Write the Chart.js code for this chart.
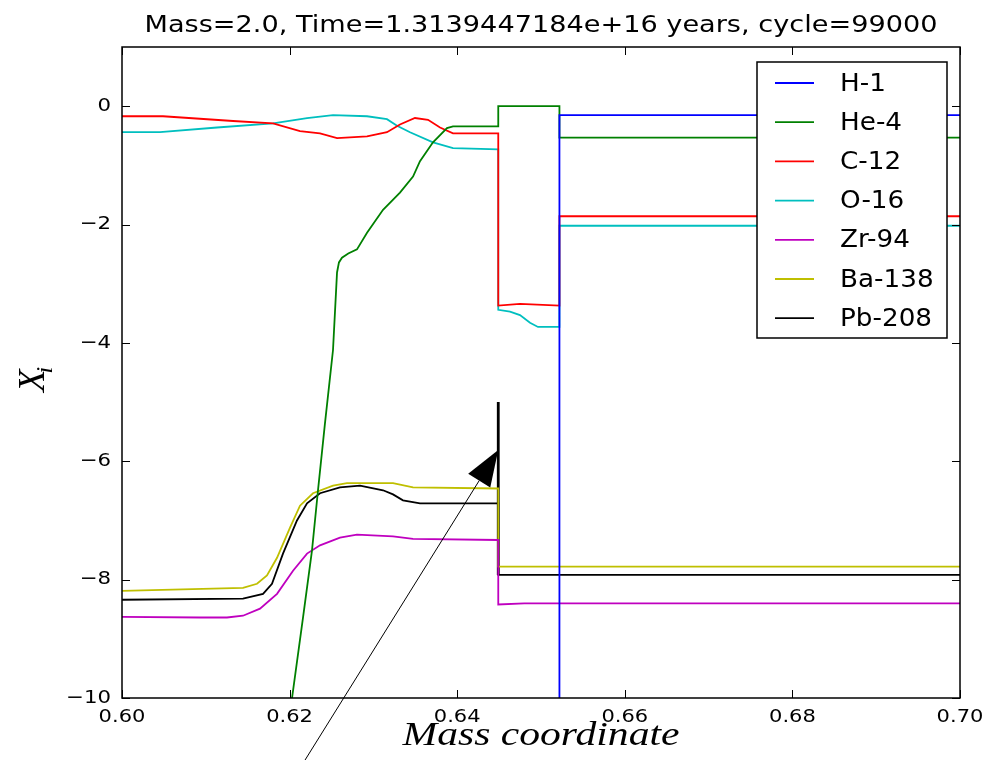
<!DOCTYPE html>
<html>
<head>
<meta charset="utf-8">
<script src="https://cdn.jsdelivr.net/npm/chart.js@4/dist/chart.umd.min.js"></script>
<style>
  body { margin: 0; background: #fff; }
  canvas { display: block; }
</style>
</head>
<body>
<canvas id="c" width="983" height="760"></canvas>
<script>
// abundance profiles, log10 of mass fraction against mass coordinate
const speciesNames = ['H-1', 'He-4', 'C-12', 'O-16', 'Zr-94', 'Ba-138', 'Pb-208']
const speciesColors = ['#0000ff', '#008000', '#ff0000', '#00bfbf', '#bf00bf', '#bfbf00', '#000000']

const massH1 = [0.6522, 0.6522, 0.70]
const logH1  = [-10.6, -0.15, -0.15]

const massHe4 = [0.6197, 0.62029, 0.6216, 0.62267, 0.62339, 0.62422, 0.62518, 0.62566, 0.62589, 0.62625, 0.627, 0.62804, 0.62924, 0.63115, 0.63317, 0.63473, 0.63556, 0.63711, 0.63878, 0.6395, 0.6449, 0.6449, 0.6522, 0.6522, 0.70]
const logHe4  = [-10.6, -10.0, -8.64, -7.51, -6.49, -5.36, -4.12, -2.81, -2.64, -2.56, -2.49, -2.42, -2.14, -1.75, -1.46, -1.19, -0.93, -0.61, -0.37, -0.34, -0.34, 0.0, 0.0, -0.53, -0.53]

const massC12 = [0.60, 0.60489, 0.61325, 0.61802, 0.62124, 0.62363, 0.62566, 0.62924, 0.63162, 0.63317, 0.63496, 0.63652, 0.63795, 0.6395, 0.6449, 0.6449, 0.6475, 0.6522, 0.6522, 0.70]
const logC12  = [-0.17, -0.17, -0.25, -0.29, -0.42, -0.46, -0.54, -0.51, -0.44, -0.31, -0.20, -0.23, -0.36, -0.46, -0.46, -3.37, -3.34, -3.37, -1.86, -1.86]

const massO16 = [0.60, 0.60453, 0.61134, 0.61802, 0.62208, 0.62518, 0.62924, 0.63162, 0.63282, 0.63437, 0.63711, 0.6395, 0.6449, 0.6449, 0.6463, 0.64749, 0.64869, 0.64964, 0.6522, 0.6522, 0.70]
const logO16  = [-0.44, -0.44, -0.36, -0.29, -0.20, -0.15, -0.17, -0.22, -0.33, -0.44, -0.61, -0.71, -0.73, -3.44, -3.47, -3.53, -3.66, -3.73, -3.73, -2.02, -2.02]

const massZr94 = [0.60, 0.60931, 0.61253, 0.61444, 0.61647, 0.6185, 0.62041, 0.62208, 0.62363, 0.62601, 0.62804, 0.63234, 0.63473, 0.6449, 0.6449, 0.648, 0.70]
const logZr94  = [-8.63, -8.64, -8.64, -8.61, -8.49, -8.24, -7.85, -7.56, -7.42, -7.29, -7.24, -7.27, -7.31, -7.33, -8.42, -8.40, -8.40]

const massBa138 = [0.60, 0.61444, 0.61611, 0.6173, 0.6185, 0.62005, 0.62124, 0.62279, 0.62518, 0.62685, 0.63234, 0.63473, 0.6449, 0.6449, 0.70]
const logBa138  = [-8.19, -8.14, -8.07, -7.93, -7.63, -7.12, -6.75, -6.54, -6.41, -6.37, -6.37, -6.44, -6.46, -7.78, -7.78]

const massPb208 = [0.60, 0.61444, 0.61683, 0.6179, 0.61921, 0.62088, 0.62208, 0.62363, 0.62601, 0.6284, 0.63115, 0.63234, 0.63353, 0.63556, 0.6449, 0.6449, 0.70]
const logPb208  = [-8.34, -8.32, -8.24, -8.07, -7.56, -7.0, -6.71, -6.54, -6.44, -6.41, -6.49, -6.56, -6.66, -6.71, -6.71, -7.92, -7.92]

// marker at the boundary and the arrow pointing at it
const markMass = [0.6449, 0.6449]
const markLog  = [-5.0, -7.92]
const arrowMass = [0.6210, 0.6449]
const arrowLog  = [-11.24, -5.81]

const xTicks = [0.60, 0.62, 0.64, 0.66, 0.68, 0.70]
const yTicks = [-10, -8, -6, -4, -2, 0]

const titleText = 'Mass=2.0, Time=1.3139447184e+16 years, cycle=99000'

const massSets = [massH1, massHe4, massC12, massO16, massZr94, massBa138, massPb208]
const logSets  = [logH1, logHe4, logC12, logO16, logZr94, logBa138, logPb208]

function toPoints(xs, ys){
    return xs.map((v, i) => ({x: v, y: ys[i]}))
}

const datasets = speciesNames.map((name, i) => ({
    label: name,
    data: toPoints(massSets[i], logSets[i]),
    borderColor: speciesColors[i],
    borderWidth: 1.8,
    showLine: true,
    pointRadius: 0,
    tension: 0
}))
datasets.push({
    label: '',
    data: toPoints(markMass, markLog),
    borderColor: '#000',
    borderWidth: 2.8,
    showLine: true,
    pointRadius: 0
})

// stretched text helper
function text(ctx, str, x, y, font, align, sx){
    ctx.save()
    ctx.font = font
    const w = ctx.measureText(str).width * sx
    let x0 = x
    if (align === 'center') x0 = x - w / 2
    else if (align === 'right') x0 = x - w
    ctx.translate(x0, y)
    ctx.scale(sx, 1)
    ctx.textAlign = 'left'
    ctx.fillText(str, 0, 0)
    ctx.restore()
}

const decor = {
    id: 'decor',
    afterDraw(chart){
        const ctx = chart.ctx
        const {left, top, right, bottom} = chart.chartArea
        const xs = chart.scales.x, ys = chart.scales.y
        ctx.save()
        ctx.fillStyle = '#000'
        ctx.strokeStyle = '#000'
        ctx.textBaseline = 'alphabetic'

        // frame
        ctx.lineWidth = 1.5
        ctx.strokeRect(left, top, right - left, bottom - top)

        // inward ticks on all sides
        ctx.lineWidth = 1
        ctx.beginPath()
        xTicks.forEach(v => {
            const px = Math.round(xs.getPixelForValue(v)) + 0.5
            ctx.moveTo(px, bottom); ctx.lineTo(px, bottom - 8)
            ctx.moveTo(px, top); ctx.lineTo(px, top + 8)
        })
        yTicks.forEach(v => {
            const py = Math.round(ys.getPixelForValue(v)) + 0.5
            ctx.moveTo(left, py); ctx.lineTo(left + 8, py)
            ctx.moveTo(right, py); ctx.lineTo(right - 8, py)
        })
        ctx.stroke()

        // tick labels
        xTicks.forEach(v => {
            text(ctx, v.toFixed(2), xs.getPixelForValue(v), 722, '17.5px "DejaVu Sans"', 'center', 1.2)
        })
        ctx.textBaseline = 'middle'
        yTicks.forEach(v => {
            const s = v < 0 ? '\u2212' + Math.abs(v) : String(v)
            text(ctx, s, left - 11, ys.getPixelForValue(v), '18.5px "DejaVu Sans"', 'right', 1.15)
        })
        ctx.textBaseline = 'alphabetic'

        // title
        text(ctx, titleText, (left + right) / 2, 32, '23px "DejaVu Sans"', 'center', 1.18)

        // x axis label
        ctx.save()
        ctx.font = 'italic 33px "Liberation Serif"'
        const lw = ctx.measureText('Mass coordinate').width
        ctx.restore()
        text(ctx, 'Mass coordinate', (left + right) / 2, 745, 'italic 33px "Liberation Serif"', 'center', 277 / lw)

        // y axis label, X with subscript i
        ctx.save()
        ctx.translate(44, 392)
        ctx.rotate(-Math.PI / 2)
        ctx.font = 'italic 37px "Liberation Serif"'
        ctx.fillText('X', 0, 0)
        const xw = ctx.measureText('X').width
        ctx.font = 'italic 24px "Liberation Serif"'
        ctx.fillText('i', xw - 4, 8)
        ctx.restore()

        // legend
        const lx = 757, ly = 62, lwid = 190, lh = 276
        ctx.fillStyle = '#fff'
        ctx.fillRect(lx, ly, lwid, lh)
        ctx.lineWidth = 1.5
        ctx.strokeStyle = '#000'
        ctx.strokeRect(lx, ly, lwid, lh)
        ctx.textBaseline = 'middle'
        speciesNames.forEach((name, i) => {
            const cy = 83 + i * 39.2
            ctx.strokeStyle = speciesColors[i]
            ctx.lineWidth = 1.8
            ctx.beginPath()
            ctx.moveTo(775, cy); ctx.lineTo(814, cy)
            ctx.stroke()
            ctx.fillStyle = '#000'
            text(ctx, name, 840, cy + 1, '25px "DejaVu Sans"', 'left', 1.05)
        })

        // arrow
        const tx = xs.getPixelForValue(arrowMass[1]), ty = ys.getPixelForValue(arrowLog[1])
        const sx = xs.getPixelForValue(arrowMass[0]), sy = ys.getPixelForValue(arrowLog[0])
        const len = Math.hypot(sx - tx, sy - ty)
        const ux = (sx - tx) / len, uy = (sy - ty) / len
        const head = 36, half = 13
        const bx = tx + ux * head, by = ty + uy * head
        ctx.strokeStyle = '#000'
        ctx.lineWidth = 1
        ctx.beginPath()
        ctx.moveTo(sx, sy); ctx.lineTo(bx, by)
        ctx.stroke()
        ctx.fillStyle = '#000'
        ctx.beginPath()
        ctx.moveTo(tx, ty)
        ctx.lineTo(bx - uy * half, by + ux * half)
        ctx.lineTo(bx + uy * half, by - ux * half)
        ctx.closePath()
        ctx.fill()

        ctx.restore()
    }
}

new Chart(document.getElementById('c'), {
    type: 'scatter',
    data: {datasets: datasets},
    options: {
        responsive: false,
        devicePixelRatio: 1,
        animation: false,
        layout: {padding: {left: 122, right: 23, top: 47, bottom: 62}},
        plugins: {legend: {display: false}, tooltip: {enabled: false}},
        scales: {
            x: {type: 'linear', min: 0.60, max: 0.70, display: false},
            y: {type: 'linear', min: -10, max: 1, display: false}
        }
    },
    plugins: [decor]
})
</script>
</body>
</html>
